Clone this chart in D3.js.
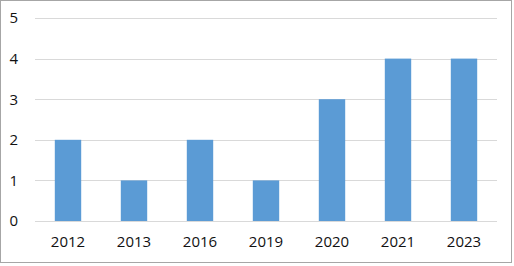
<!DOCTYPE html>
<html>
<head>
<meta charset="utf-8">
<script src="https://cdn.jsdelivr.net/npm/d3@7"></script>
<style>
  body { margin: 0; background: #fff; }
  text { font-family: "Open Sans", "Liberation Sans", sans-serif; }
</style>
</head>
<body>
<div id="chart"></div>
<script>
// data
const years = ["2012", "2013", "2016", "2019", "2020", "2021", "2023"]
const counts = [2, 1, 2, 1, 3, 4, 4]
const yTicks = [0, 1, 2, 3, 4, 5]

const W = 514, H = 266
const margin = {top: 18, right: 17, bottom: 45, left: 35},
    width = W - margin.left - margin.right,
    height = H - margin.top - margin.bottom;

const svg = d3.select("#chart")
  .append("svg")
    .attr("width", W)
    .attr("height", H)

// outer frame
svg.append("rect")
  .attr("x", 0.5).attr("y", 0.5)
  .attr("width", 511).attr("height", 262)
  .attr("fill", "#fff")
  .attr("stroke", "#a6a6a6")

const g = svg.append("g")
  .attr("transform", `translate(${margin.left},${margin.top})`)

const x = d3.scaleBand()
  .domain(years)
  .range([0, width])
  .paddingInner(0.6)
  .paddingOuter(0.3)

const y = d3.scaleLinear()
  .domain([0, 5])
  .range([height, 0])

// gridlines
g.append("g")
  .selectAll("line")
  .data(yTicks)
  .join("line")
    .attr("x1", 0)
    .attr("x2", width)
    .attr("y1", d => Math.round(y(d)) + 0.5)
    .attr("y2", d => Math.round(y(d)) + 0.5)
    .attr("stroke", "#d9d9d9")

// bars
g.append("g")
  .selectAll("rect")
  .data(years.map((yr, i) => ({year: yr, value: counts[i]})))
  .join("rect")
    .attr("x", d => x(d.year))
    .attr("y", d => y(d.value))
    .attr("width", x.bandwidth())
    .attr("height", d => y(0) - y(d.value))
    .attr("fill", "#5b9bd5")

// y axis labels
const yAxis = d3.axisLeft(y).tickValues(yTicks).tickFormat(d3.format("d")).tickSize(0).tickPadding(17)
g.append("g")
  .call(yAxis)
  .call(a => a.select(".domain").remove())
  .selectAll("text")
    .attr("font-size", 15)
    .attr("fill", "#111")

// x axis labels
const xAxis = d3.axisBottom(x).tickSize(0).tickPadding(15)
g.append("g")
  .attr("transform", `translate(0,${height})`)
  .call(xAxis)
  .call(a => a.select(".domain").remove())
  .selectAll("text")
    .attr("font-size", 15)
    .attr("fill", "#111")
</script>
</body>
</html>
